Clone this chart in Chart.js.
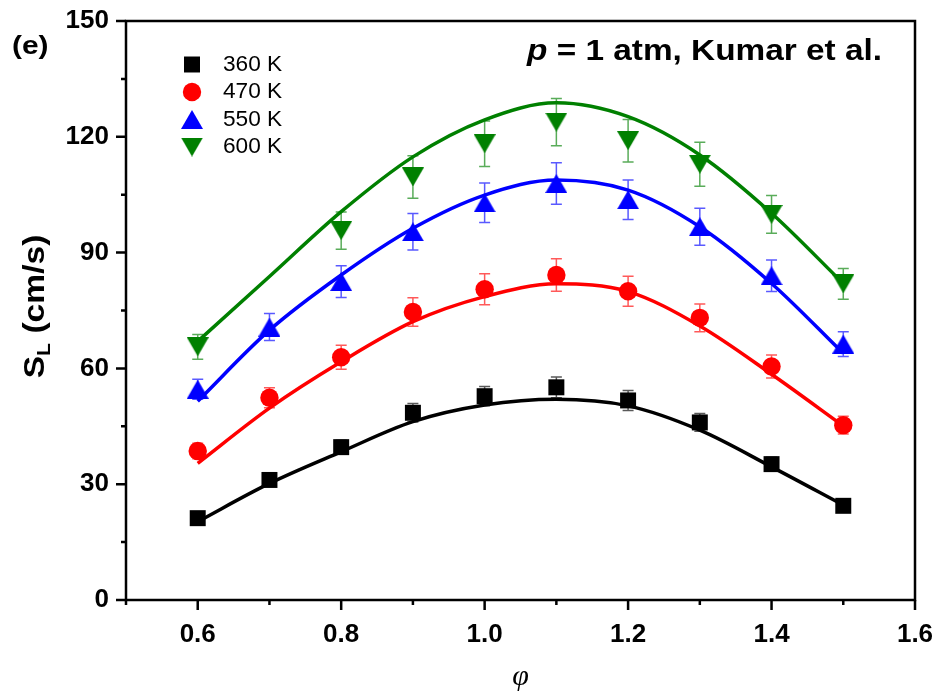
<!DOCTYPE html>
<html>
<head>
<meta charset="utf-8">
<script src="https://cdn.jsdelivr.net/npm/chart.js@4.4.1/dist/chart.umd.min.js"></script>
<style>
html,body{margin:0;padding:0;background:#fff;}
canvas{display:block;}
</style>
</head>
<body>
<canvas id="chartSL" width="941" height="695"></canvas>
<script>
// equivalence ratio
const phi    = [0.6,0.7,0.8,0.9,1.0,1.1,1.2,1.3,1.4,1.5];
const phi600 = [0.6,0.8,0.9,1.0,1.1,1.2,1.3,1.4,1.5];

// measured S_L (cm/s) and error
const s360 = [21.2,31.1,39.6,48.5,52.8,55.1,51.7,46.0,35.2,24.4];
const e360 = [1.5,1.5,1.8,2.4,2.5,2.7,2.6,2.3,1.8,1.5];
const s470 = [38.6,52.4,62.9,74.6,80.5,84.2,80.0,73.1,60.5,45.3];
const e470 = [2.0,2.6,3.1,3.7,4.0,4.2,3.9,3.6,3.0,2.3];
const s550 = [54.6,70.7,82.5,95.4,102.9,107.9,103.7,96.7,84.0,66.3];
const e550 = [2.6,3.5,4.1,4.7,5.1,5.4,5.1,4.8,4.1,3.2];
const s600 = [65.6,95.7,109.6,118.2,123.8,119.0,112.9,99.9,81.9];
const e600 = [3.2,4.8,5.5,5.9,6.1,5.5,5.7,4.9,4.0];

// fitted curves
const fit360 = [20.3,30.2,38.4,46.2,50.5,52.0,50.3,44.0,34.5,24.6];
const fit470 = [35.4,49.7,61.7,72.1,78.6,81.9,79.9,71.0,58.5,45.1];
const fit550 = [51.5,69.9,84.2,96.3,104.9,108.8,106.2,96.7,82.0,63.9];
const fit600 = [67.0,83.8,100.6,114.8,124.4,128.8,125.2,115.3,100.2,82.0];

const labels = ['360 K','470 K','550 K','600 K'];
const xTicks = [0.6,0.8,1.0,1.2,1.4,1.6];
const yTicks = [0,30,60,90,120,150];

const FONT = '"Liberation Sans", Arial, sans-serif';

function triImg(color, down){
    const w = 22, h = 19;
    const c = document.createElement('canvas');
    c.width = w; c.height = h;
    const g = c.getContext('2d');
    g.fillStyle = color;
    g.beginPath();
    if(!down){ g.moveTo(w/2,0); g.lineTo(w,h); g.lineTo(0,h); }
    else { g.moveTo(0,0); g.lineTo(w,0); g.lineTo(w/2,h); }
    g.closePath();
    g.fill();
    return c;
}

const series = [
    {x:phi,    y:s360, err:e360, fit:fit360, color:'#000000', style:'rect',   radius:11.3},
    {x:phi,    y:s470, err:e470, fit:fit470, color:'#ff0000', style:'circle', radius:9.2},
    {x:phi,    y:s550, err:e550, fit:fit550, color:'#0000ff', style:triImg('#0000ff',false), radius:12},
    {x:phi600, y:s600, err:e600, fit:fit600, color:'#008000', style:triImg('#008000',true),  radius:12}
];

const datasets = [];
series.forEach((s,i)=>{
    datasets.push({
        label: labels[i],
        data: s.x.map((v,k)=>({x:v, y:s.y[k]})),
        showLine:false,
        pointStyle:s.style,
        pointRadius:s.radius,
        pointBackgroundColor:s.color,
        pointBorderWidth:0,
        order:0
    });
});
series.forEach((s,i)=>{
    datasets.push({
        type:'line',
        label:'fit '+labels[i],
        data: phi.map((v,k)=>({x:v, y:s.fit[k]})),
        borderColor:s.color,
        borderWidth:3.5,
        pointRadius:0,
        cubicInterpolationMode:'monotone',
        fill:false,
        order:1
    });
});

function txt(ctx, s, x, y, font, align, sx){
    ctx.save();
    ctx.font = font;
    ctx.textBaseline = 'middle';
    const w = ctx.measureText(s).width * sx;
    const x0 = align==='right' ? x-w : (align==='center' ? x-w/2 : x);
    ctx.translate(x0, y);
    ctx.scale(sx, 1);
    ctx.textAlign = 'left';
    ctx.fillStyle = '#000';
    ctx.fillText(s, 0, 0);
    ctx.restore();
    return w;
}

const errorBars = {
    id:'errorBars',
    beforeDatasetsDraw(chart){
        const ctx = chart.ctx, xs = chart.scales.x, ys = chart.scales.y;
        ctx.save();
        ctx.lineWidth = 1.5;
        ctx.globalAlpha = 0.65;
        series.forEach(s=>{
            ctx.strokeStyle = s.color;
            s.x.forEach((v,k)=>{
                const px = xs.getPixelForValue(v);
                const top = ys.getPixelForValue(s.y[k]+s.err[k]);
                const bot = ys.getPixelForValue(s.y[k]-s.err[k]);
                ctx.beginPath();
                ctx.moveTo(px,top); ctx.lineTo(px,bot);
                ctx.moveTo(px-5.5,top); ctx.lineTo(px+5.5,top);
                ctx.moveTo(px-5.5,bot); ctx.lineTo(px+5.5,bot);
                ctx.stroke();
            });
        });
        ctx.restore();
    }
};

const frame = {
    id:'frame',
    afterDraw(chart){
        const ctx = chart.ctx, a = chart.chartArea;
        const xs = chart.scales.x, ys = chart.scales.y;
        ctx.save();
        ctx.strokeStyle = '#000';
        ctx.lineWidth = 2.5;
        ctx.strokeRect(a.left, a.top, a.right-a.left, a.bottom-a.top);
        // ticks, major + minor
        ctx.beginPath();
        for(let v=0.5; v<=1.61; v+=0.1){
            const major = xTicks.some(t=>Math.abs(t-v)<1e-6);
            const px = xs.getPixelForValue(v);
            ctx.moveTo(px, a.bottom);
            ctx.lineTo(px, a.bottom + (major?10:5));
        }
        for(let v=0; v<=150; v+=15){
            const major = yTicks.includes(v);
            const py = ys.getPixelForValue(v);
            ctx.moveTo(a.left, py);
            ctx.lineTo(a.left - (major?10:5), py);
        }
        ctx.stroke();

        // legend
        const lx = 192, ly = [64.5,92,119.5,147];
        series.forEach((s,i)=>{
            ctx.fillStyle = s.color;
            Chart.helpers.drawPoint(ctx, {pointStyle:s.style, radius:s.radius, rotation:0, borderWidth:0}, lx, ly[i]);
            txt(ctx, labels[i], 223, ly[i], '22px '+FONT, 'left', 1.03);
        });

        // panel label and annotation
        txt(ctx, '(e)', 12, 47, 'bold 26px '+FONT, 'left', 1.15);
        ctx.save();
        ctx.font = 'bold 29px '+FONT;
        const rest = ' = 1 atm, Kumar et al.';
        const wRest = ctx.measureText(rest).width*1.15;
        ctx.font = 'italic bold 29px '+FONT;
        const wp = ctx.measureText('p').width*1.15;
        ctx.restore();
        const x0 = 882 - wRest - wp;
        txt(ctx, 'p', x0, 52, 'italic bold 29px '+FONT, 'left', 1.15);
        txt(ctx, rest, x0+wp, 52, 'bold 29px '+FONT, 'left', 1.15);

        // axis titles
        txt(ctx, '\u03C6', (a.left+a.right)/2, 677, 'italic 30px "Liberation Serif", serif', 'center', 1.0);

        ctx.save();
        ctx.font = 'bold 30px '+FONT;
        const sx = 1.12;
        const wS = ctx.measureText('S').width*sx;
        const wU = ctx.measureText(' (cm/s)').width*sx;
        ctx.font = 'bold 19px '+FONT;
        const wL = ctx.measureText('L').width*sx;
        ctx.restore();
        ctx.save();
        ctx.translate(36, (a.top+a.bottom)/2 - 4);
        ctx.rotate(-Math.PI/2);
        const tot = wS+wL+wU;
        txt(ctx, 'S', -tot/2, 0, 'bold 30px '+FONT, 'left', sx);
        txt(ctx, 'L', -tot/2+wS, 9, 'bold 19px '+FONT, 'left', sx);
        txt(ctx, ' (cm/s)', -tot/2+wS+wL, 0, 'bold 30px '+FONT, 'left', sx);
        ctx.restore();
        ctx.restore();
    }
};

new Chart(document.getElementById('chartSL'), {
    type:'scatter',
    data:{datasets},
    options:{
        responsive:false,
        animation:false,
        layout:{padding:{top:21, right:26, left:0, bottom:0}},
        plugins:{legend:{display:false}, tooltip:{enabled:false}},
        scales:{
            x:{
                type:'linear', min:0.5, max:1.6,
                afterBuildTicks:s=>{ s.ticks = xTicks.map(v=>({value:v})); },
                afterFit:s=>{ s.height = 95; s.paddingLeft = 0; s.paddingRight = 0; },
                grid:{display:false, drawTicks:false},
                border:{display:false},
                ticks:{
                    padding:19, color:'#000',
                    font:{family:FONT, size:26, weight:'bold'},
                    callback:v=>v.toFixed(1)
                }
            },
            y:{
                type:'linear', min:0, max:150,
                afterBuildTicks:s=>{ s.ticks = yTicks.map(v=>({value:v})); },
                afterFit:s=>{ s.width = 126; s.paddingTop = 0; s.paddingBottom = 0; },
                grid:{display:false, drawTicks:false},
                border:{display:false},
                ticks:{
                    padding:17, color:'#000',
                    font:{family:FONT, size:26, weight:'bold'},
                    callback:v=>String(v)
                }
            }
        }
    },
    plugins:[errorBars, frame]
});
</script>
</body>
</html>
